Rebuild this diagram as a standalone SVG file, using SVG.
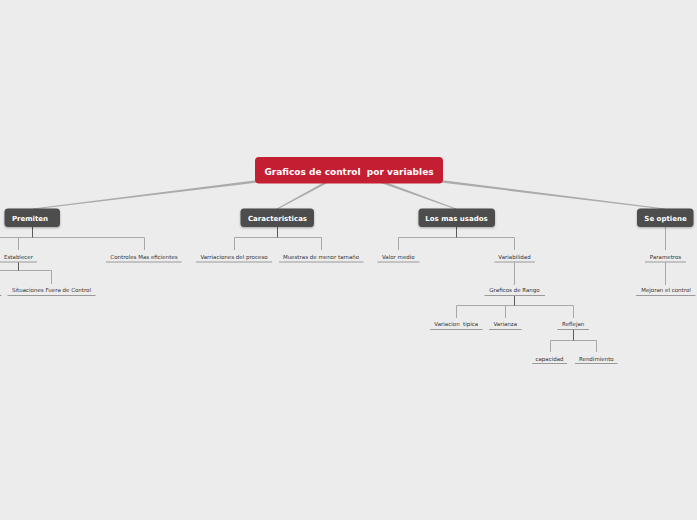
<svg xmlns="http://www.w3.org/2000/svg" width="697" height="520" viewBox="0 0 697 520">
<style>
.main rect{fill:#4d4d4d;filter:url(#sh)}
.main text{font-family:"DejaVu Sans",Verdana,sans-serif;font-weight:bold;font-size:7px;fill:#fff;text-anchor:middle}
.leaf text{font-family:"DejaVu Sans",Verdana,sans-serif;font-size:5.5px;fill:#333;text-anchor:middle}
.leaf line{stroke:#9a9a9a;stroke-width:1}
.br{stroke:#a8a8a8;stroke-width:1;fill:none}
.st{stroke:#5a5a5a;stroke-width:1;fill:none}
.tp{fill:#ababab}
</style>
<defs>
<filter id="sh" x="-20%" y="-30%" width="140%" height="170%">
<feDropShadow dx="0" dy="1" stdDeviation="0.8" flood-color="#000" flood-opacity="0.3"/>
</filter>
</defs>
<rect width="697" height="520" fill="#ececec"/>
<g id="connectors">
<polygon class="tp" points="348.82,168.51 32.94,208.5 33.06,209.5 349.18,171.49"/>
<polygon class="tp" points="348.29,168.68 276.76,208.56 277.24,209.44 349.71,171.32"/>
<polygon class="tp" points="348.49,171.41 455.83,209.47 456.17,208.53 349.51,168.59"/>
<polygon class="tp" points="348.82,171.49 664.94,209.5 665.06,208.5 349.18,168.51"/>
<path class="br" d="M-10,237.5H144.5M18.5,237.5V250M144.5,237.5V250"/>
<path class="st" d="M32.5,227V237.5"/>
<path class="br" d="M-10,270.5H51.5M51.5,270.5V284"/>
<path class="st" d="M18.5,262V270.5"/>
<path class="br" d="M234.5,237.5H321.5M234.5,237.5V250M321.5,237.5V250"/>
<path class="st" d="M277.5,227V237.5"/>
<path class="br" d="M398.5,237.5H514.5M398.5,237.5V250M514.5,237.5V250"/>
<path class="st" d="M456.5,227V237.5"/>
<path class="br" d="M514.5,262V285"/>
<path class="br" d="M456.5,305.5H573.5M456.5,305.5V318M505.5,305.5V318M573.5,305.5V318"/>
<path class="st" d="M514.5,295V305.5"/>
<path class="br" d="M550.5,340.5H596.5M550.5,340.5V352M596.5,340.5V352"/>
<path class="st" d="M573.5,329.5V340.5"/>
<path class="br" d="M665.5,227V250M665.5,262V285"/>
</g>
<g id="central">
<rect x="255" y="157" width="188" height="26.5" rx="4" fill="#c41e32"/>
<text x="349" y="174.5" xml:space="preserve" font-family="'DejaVu Sans',Verdana,sans-serif" font-weight="bold" font-size="9" fill="#fff" text-anchor="middle">Graficos de control  por variables</text>
</g>
<g id="premiten" class="main"><rect x="4.5" y="208.5" width="55.5" height="18.5" rx="3.5"/><text x="30" y="221">Premiten</text></g>
<g id="caracteristicas" class="main"><rect x="240.5" y="208.5" width="73.5" height="18.5" rx="3.5"/><text x="277.5" y="221">Caracteristicas</text></g>
<g id="losmasusados" class="main"><rect x="418.5" y="208.5" width="76.5" height="18.5" rx="3.5"/><text x="456.5" y="221">Los mas usados</text></g>
<g id="seoptiene" class="main"><rect x="637" y="208.5" width="56.5" height="18.5" rx="3.5"/><text x="665.5" y="221">Se optiene</text></g>
<g id="establecer" class="leaf"><text x="18.5" y="258.5">Establecer</text><line x1="0" y1="262" x2="37" y2="262"/></g>
<g id="controles" class="leaf"><text x="144" y="258.5">Controles Mas eficientes</text><line x1="106" y1="262" x2="181.5" y2="262"/></g>
<g id="offscreen-leaf" class="leaf"><line x1="-20" y1="295.5" x2="1.5" y2="295.5"/></g>
<g id="situaciones" class="leaf"><text x="51.5" y="292">Situaciones Fuera de Control</text><line x1="7.5" y1="295.5" x2="95.5" y2="295.5"/></g>
<g id="varriaciones" class="leaf"><text x="234" y="258.5">Varriaciones del proceso</text><line x1="196" y1="262" x2="272" y2="262"/></g>
<g id="muestras" class="leaf"><text x="321" y="258.5">Muestras de menor tamaño</text><line x1="279" y1="262" x2="363.5" y2="262"/></g>
<g id="valormedio" class="leaf"><text x="398.3" y="258.5">Valor medio</text><line x1="377.5" y1="262" x2="419.5" y2="262"/></g>
<g id="variabilidad" class="leaf"><text x="514.5" y="258.5">Variabilidad</text><line x1="494.5" y1="262" x2="535" y2="262"/></g>
<g id="graficosrango" class="leaf"><text x="514.5" y="292">Graficos de Rango</text><line x1="484.5" y1="295.5" x2="545" y2="295.5"/></g>
<g id="variacion" class="leaf"><text x="456.3" y="326" xml:space="preserve">Variacion  tipica</text><line x1="430" y1="329.5" x2="482.5" y2="329.5"/></g>
<g id="varianza" class="leaf"><text x="505.3" y="326">Varianza</text><line x1="489" y1="329.5" x2="521.5" y2="329.5"/></g>
<g id="reflejan" class="leaf"><text x="573.2" y="326">Reflejan</text><line x1="557.3" y1="329.5" x2="589" y2="329.5"/></g>
<g id="capacidad" class="leaf"><text x="549.5" y="360.5">capacidad</text><line x1="532" y1="363.5" x2="567" y2="363.5"/></g>
<g id="rendimiento" class="leaf"><text x="596.3" y="360.5">Rendimiento</text><line x1="575" y1="363.5" x2="617.5" y2="363.5"/></g>
<g id="parametros" class="leaf"><text x="665.5" y="258.5">Parametros</text><line x1="645" y1="262" x2="686" y2="262"/></g>
<g id="mejoran" class="leaf"><text x="666" y="292">Mejoran el control</text><line x1="636" y1="295.5" x2="695.5" y2="295.5"/></g>
</svg>
